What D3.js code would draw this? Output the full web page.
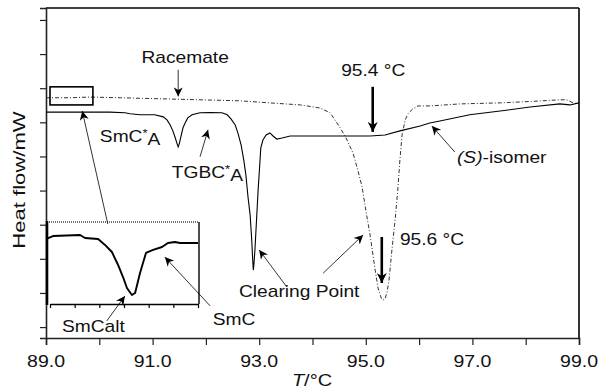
<!DOCTYPE html>
<html><head><meta charset="utf-8">
<script src="https://cdn.jsdelivr.net/npm/d3@7"></script>
<style>body{margin:0;background:#fff}svg{display:block}text{font-family:"Liberation Sans",Arial,sans-serif;fill:#111}</style>
</head><body><div id="chart"></div>
<script>
// ---- data ----
const xTicks = [89,90,91,92,93,94,95,96,97,98,99];
const xTickLabels = ["89.0","91.0","93.0","95.0","97.0","99.0"];
const xLabelTicks = [89,91,93,95,97,99];
const yTicks = [0,1,2,3,4,5,6,7,8,9];

// (S)-isomer trace: temperature (°C), heat flow (arb. mW)
const sIsomerT = [89.00,89.64,90.20,90.48,90.58,90.76,91.04,91.20,91.27,91.33,91.38,91.42,91.46,91.48,91.50,91.53,91.57,91.61,91.66,91.74,91.89,92.08,92.30,92.40,92.47,92.55,92.60,92.66,92.71,92.75,92.79,92.83,92.86,92.88,92.89,92.90,92.92,92.95,92.98,93.01,93.03,93.07,93.13,93.20,93.26,93.33,93.43,93.58,93.95,94.52,95.08,95.36,95.64,96.02,96.20,96.39,96.95,97.52,98.08,98.64,98.83,99.00];
const sIsomerH = [6.30,6.30,6.30,6.28,6.25,6.22,6.22,6.16,6.07,5.92,5.75,5.57,5.37,5.28,5.37,5.57,5.84,5.98,6.13,6.22,6.28,6.29,6.28,6.22,6.10,5.92,5.69,5.34,4.90,4.46,3.81,3.28,2.55,1.91,1.67,1.82,2.26,3.14,4.02,4.75,5.25,5.48,5.63,5.69,5.60,5.51,5.54,5.60,5.60,5.60,5.60,5.63,5.75,5.89,5.98,6.04,6.22,6.33,6.45,6.54,6.51,6.57];

// Racemate trace
const racT = [89.00,89.45,89.83,90.39,91.14,91.89,92.64,93.20,93.77,94.14,94.33,94.52,94.63,94.76,94.85,94.93,95.00,95.08,95.17,95.23,95.29,95.32,95.36,95.40,95.44,95.49,95.55,95.60,95.64,95.68,95.74,95.79,95.88,95.98,96.20,96.77,97.52,98.08,98.64,98.77,98.89,99.00];
const racH = [6.72,6.72,6.74,6.72,6.69,6.66,6.63,6.57,6.51,6.42,6.28,5.84,5.54,5.10,4.60,4.11,3.43,2.70,1.73,1.14,0.85,0.79,0.82,1.03,1.44,2.26,3.14,4.02,4.90,5.63,6.07,6.25,6.39,6.48,6.48,6.54,6.57,6.61,6.66,6.66,6.57,6.54];

// Inset (magnified SmCalt → SmC region)
const insetT = [88.99,89.012,89.122,89.142,89.195,89.223,89.251,89.276,89.296,89.312,89.332,89.345,89.365,89.389,89.418,89.454,89.478,89.507,89.527,89.60];
const insetH = [8.01,8.29,8.41,8.05,7.93,7.20,6.34,4.76,3.29,1.95,1.10,1.34,3.78,6.22,6.59,6.95,7.44,7.56,7.44,7.44];
const insetTicks = [89.0,89.1,89.2,89.3,89.4,89.5,89.6];

// ---- layout ----
const W = 605, H = 390;
const svg = d3.select("#chart").append("svg").attr("width", W).attr("height", H);
const x = d3.scaleLinear().domain([89, 99]).range([46, 579]);
const y = d3.scaleLinear().domain([-0.32, 9.35]).range([338, 8]);
const STR = 1.2;

function stext(g, px, py, str, size, anchor, opts) {
  opts = opts || {};
  const t = g.append("text")
    .attr("transform", `translate(${px},${py}) ${opts.rot ? "rotate(" + opts.rot + ")" : ""} scale(${opts.sx || STR},1)`)
    .attr("font-size", size).attr("text-anchor", anchor || "start");
  return t.text(str);
}

// defs: arrowheads
const defs = svg.append("defs");
function marker(id, w, h) {
  defs.append("marker").attr("id", id).attr("viewBox", "0 0 10 10")
    .attr("refX", 10).attr("refY", 5).attr("markerUnits", "userSpaceOnUse")
    .attr("markerWidth", w).attr("markerHeight", h).attr("orient", "auto")
    .append("path").attr("d", "M0,0 L10,5 L0,10 L3,5 Z").attr("fill", "#000");
}
marker("ah", 11, 9);
marker("ahb", 12, 10);

// frame
svg.append("line").attr("x1", 46).attr("x2", 579).attr("y1", 8).attr("y2", 8).attr("stroke", "#000").attr("stroke-width", 1.6);
svg.append("line").attr("x1", 579).attr("x2", 579).attr("y1", 8).attr("y2", 338).attr("stroke", "#000").attr("stroke-width", 1.6);

// axes
const xAxis = svg.append("g").attr("transform", "translate(0,338)")
  .call(d3.axisBottom(x).tickValues(xTicks).tickSize(7).tickFormat(""));
const yAxis = svg.append("g").attr("transform", "translate(46,0)")
  .call(d3.axisLeft(y).tickValues(yTicks).tickSize(6).tickFormat(""));
[xAxis, yAxis].forEach(a => {
  a.select(".domain").attr("stroke", "#222").attr("stroke-width", 1.6);
  a.selectAll(".tick line").attr("stroke", "#222").attr("stroke-width", 1.2);
});
xLabelTicks.forEach((v, i) => stext(svg, x(v), 367, xTickLabels[i], 16, "middle", {sx: 1.22}));

// axis titles
const xt = svg.append("text").attr("transform", `translate(312,386) scale(1.25,1)`)
  .attr("font-size", 16).attr("text-anchor", "middle");
xt.append("tspan").attr("font-style", "italic").text("T");
xt.append("tspan").text("/°C");
stext(svg, 25, 180, "Heat flow/mW", 17, "middle", {rot: -90, sx: 1.3});

// curves
const line = d3.line().x(d => x(d[0])).y(d => y(d[1])).curve(d3.curveLinear);
const sData = sIsomerT.map((t, i) => [t, sIsomerH[i]]);
const rData = racT.map((t, i) => [t, racH[i]]);
svg.append("path").datum(rData).attr("d", line).attr("fill", "none")
  .attr("stroke", "#333").attr("stroke-width", 1).attr("stroke-dasharray", "4,2,1,2");
svg.append("path").datum(sData).attr("d", line).attr("fill", "none")
  .attr("stroke", "#000").attr("stroke-width", 1.1);

// zoom box on main plot
svg.append("rect").attr("x", x(89.075)).attr("y", y(7.04))
  .attr("width", x(89.88) - x(89.075)).attr("height", y(6.51) - y(7.04))
  .attr("fill", "none").attr("stroke", "#000").attr("stroke-width", 1.6);

// inset
const ix = d3.scaleLinear().domain([89.0, 89.6]).range([50, 198]);
const iy = d3.scaleLinear().domain([0, 10]).range([304, 222]);
const inset = svg.append("g");
inset.append("rect").attr("x", 47).attr("y", 222).attr("width", 152).attr("height", 82).attr("fill", "#fff");
inset.append("line").attr("x1", 47).attr("x2", 199).attr("y1", 222).attr("y2", 222).attr("stroke", "#444").attr("stroke-width", 1.5).attr("stroke-dasharray", "1,1");
inset.append("line").attr("x1", 199).attr("x2", 199).attr("y1", 222).attr("y2", 304).attr("stroke", "#000").attr("stroke-width", 1.4);
inset.append("line").attr("x1", 47).attr("x2", 47).attr("y1", 221).attr("y2", 305).attr("stroke", "#000").attr("stroke-width", 2.6);
const ixAxis = inset.append("g").attr("transform", "translate(0,304)")
  .call(d3.axisBottom(ix).tickValues(insetTicks).tickSize(4).tickFormat("").tickSizeOuter(0));
ixAxis.select(".domain").attr("stroke", "#000").attr("stroke-width", 1.6);
ixAxis.selectAll(".tick line").attr("stroke", "#000").attr("stroke-width", 1.2);
const iData = insetT.map((t, i) => [t, insetH[i]]);
inset.append("path").datum(iData)
  .attr("d", d3.line().x(d => ix(d[0])).y(d => iy(d[1])))
  .attr("fill", "none").attr("stroke", "#000").attr("stroke-width", 1.9).attr("stroke-linejoin", "round");

// annotations (data coordinates)
const arrows = [
  {from: [91.48, 7.54], to: [91.48, 6.76], w: 0.8, m: "ah"},
  {from: [91.89, 4.99], to: [92.04, 5.78], w: 0.8, m: "ah"},
  {from: [95.13, 7.04], to: [95.13, 5.72], w: 2.6, m: "ahb"},
  {from: [96.67, 5.13], to: [96.24, 5.89], w: 0.8, m: "ah"},
  {from: [95.30, 2.64], to: [95.30, 1.29], w: 2.6, m: "ahb"},
  {from: [93.52, 1.17], to: [93.00, 2.26], w: 0.8, m: "ah"},
  {from: [94.20, 1.58], to: [94.95, 2.70], w: 0.8, m: "ah"},
  {from: [90.14, 0.18], to: [90.48, 0.91], w: 0.8, m: "ah"},
  {from: [92.08, 0.62], to: [91.23, 2.05], w: 0.8, m: "ah"},
  {from: [90.16, 3.02], to: [89.68, 6.33], w: 0.8, m: "ah"}
];
arrows.forEach(a => {
  svg.append("line").attr("x1", x(a.from[0])).attr("y1", y(a.from[1]))
    .attr("x2", x(a.to[0])).attr("y2", y(a.to[1]))
    .attr("stroke", "#000").attr("stroke-width", a.w).attr("marker-end", `url(#${a.m})`);
});

stext(svg, x(91.61), y(7.74), "Racemate", 16, "middle");
stext(svg, x(95.14), y(7.36), "95.4 °C", 16, "middle");
stext(svg, x(95.64), y(2.40), "95.6 °C", 16, "start");
stext(svg, x(92.62), y(0.88), "Clearing Point", 16, "start");
stext(svg, x(89.30), y(-0.15), "SmCalt", 16, "start");
stext(svg, x(92.13), y(0.06), "SmC", 16, "start");

function phase(px, py, base) {
  const t = svg.append("text").attr("transform", `translate(${px},${py}) scale(${STR},1)`).attr("font-size", 16);
  t.append("tspan").text(base);
  t.append("tspan").attr("font-size", 11).attr("dy", -5).text("*");
  t.append("tspan").attr("dy", 8).text("A");
}
phase(x(90.01), y(5.43), "SmC");
phase(x(91.36), y(4.37), "TGBC");

const si = svg.append("text").attr("transform", `translate(${x(96.71)},${y(4.81)}) scale(${STR},1)`).attr("font-size", 16);
si.append("tspan").attr("font-style", "italic").text("(S)");
si.append("tspan").text("-isomer");
</script></body></html>
